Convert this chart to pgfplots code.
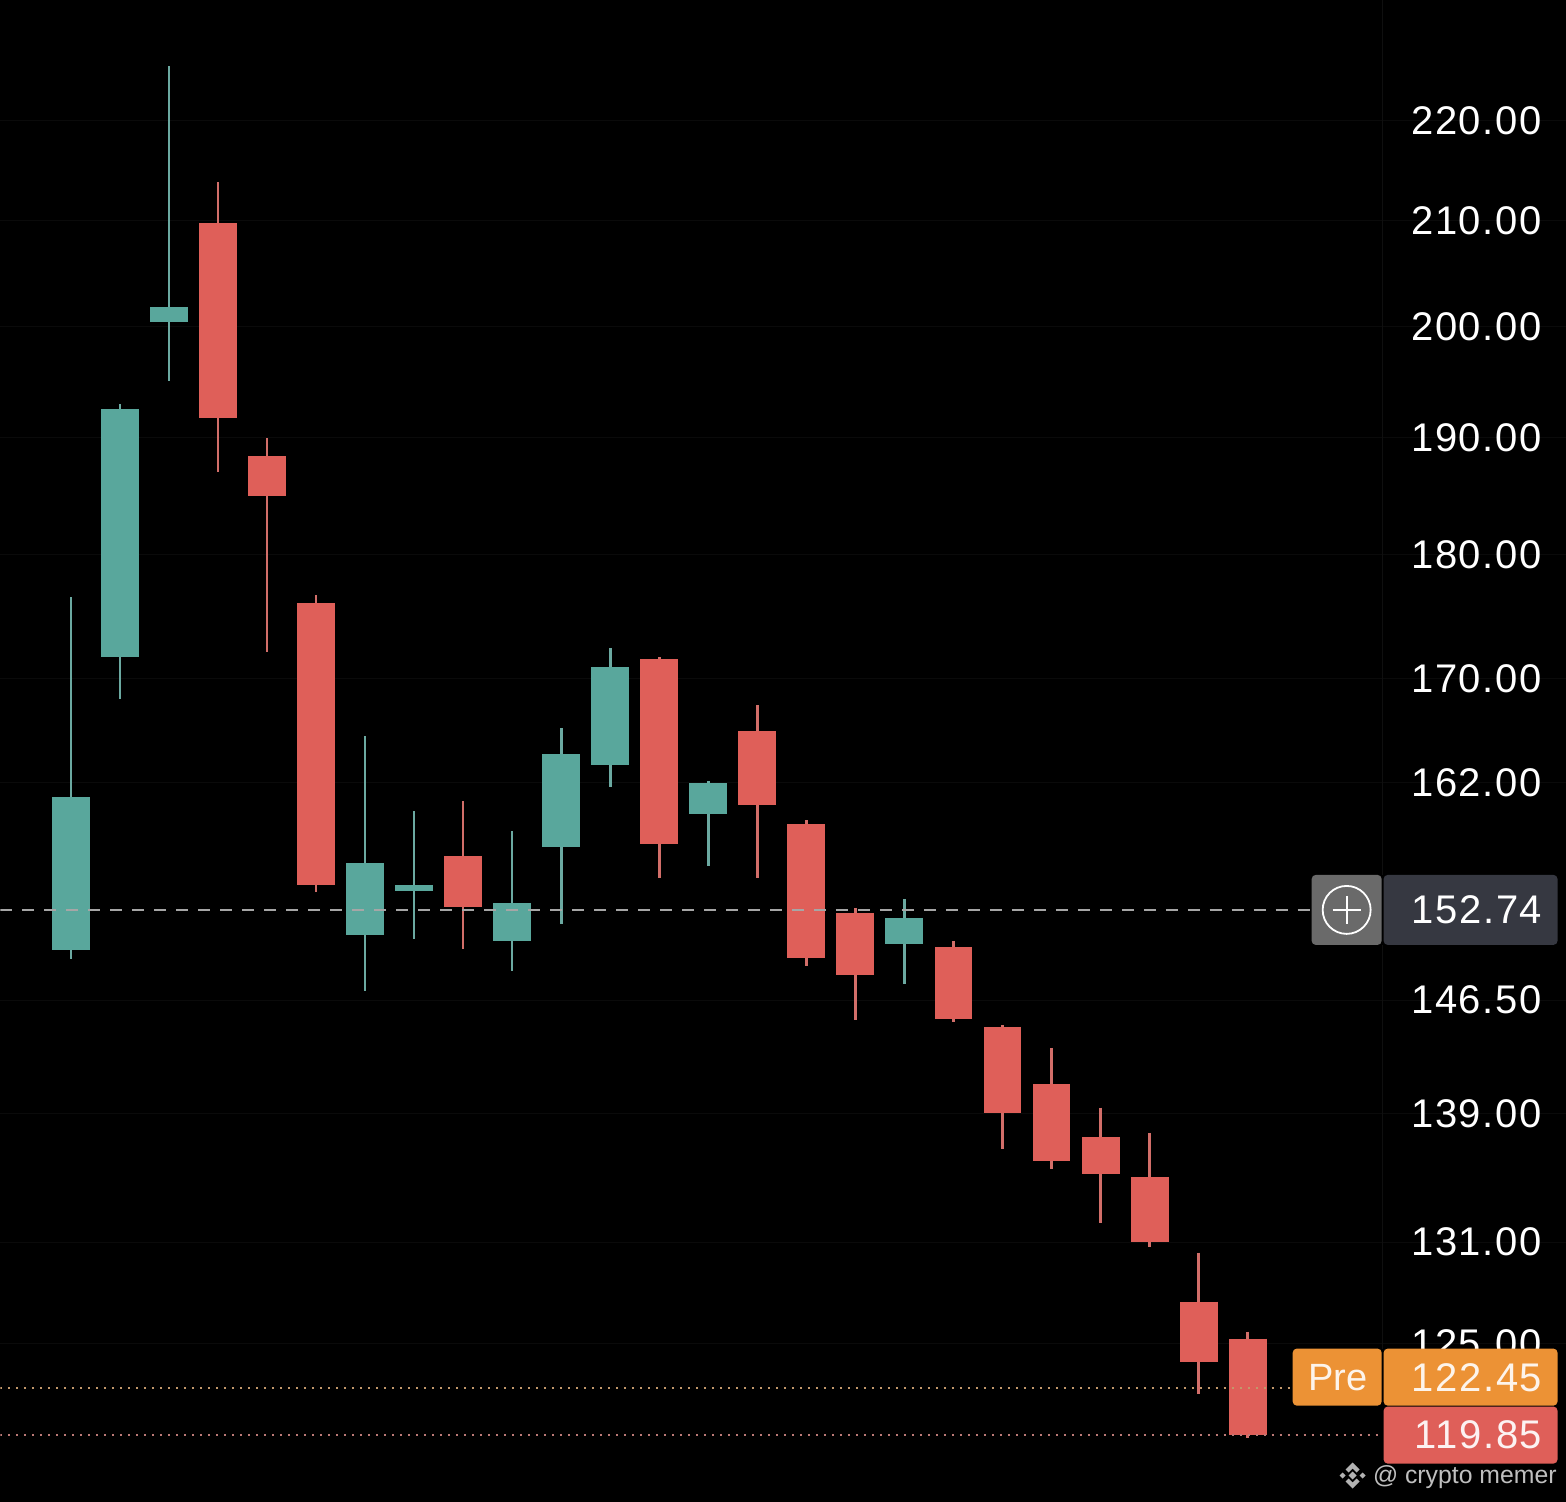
\documentclass[border=0pt]{standalone}
\usepackage{fontspec}
\usepackage{pgfplots}
\pgfplotsset{compat=1.18}
\setmainfont{Liberation Sans}
\newfontfamily\lab[LetterSpace=4]{Liberation Sans}
\newcommand{\labfont}{\lab\fontsize{20}{24}\selectfont}
\definecolor{upc}{HTML}{59A79C}
\definecolor{upw}{HTML}{6BA9A1}
\definecolor{dnc}{HTML}{DF5F59}
\definecolor{dnw}{HTML}{D26E69}
\definecolor{orng}{HTML}{EC9235}
\definecolor{btn}{HTML}{6A6A6A}
\definecolor{darkbox}{HTML}{363841}
\begin{document}
\begin{tikzpicture}
\fill[black] (0,0) rectangle (783pt,751pt);
\begin{axis}[
  at={(0,0)}, anchor=south west,
  scale only axis, width=783pt, height=751pt,
  xmin=-1.4448, xmax=30.488,
  ymode=log, ymin=116.20, ymax=232.54,
  xtick=\empty,
  ytick={125,131,139,146.5,162,170,180,190,200,210,220},
  yticklabels={125.00,131.00,139.00,146.50,162.00,170.00,180.00,190.00,200.00,210.00,220.00},
  yticklabel pos=right,
  yticklabel style={font=\labfont, anchor=east, xshift=-8.5pt, text=white},
  major tick length=0pt, minor tick num=0,
  ymajorgrids, grid style={color=black!96!white, line width=0.5pt},
  axis line style={draw=none},
  unbounded coords=jump,
  clip=true,
]
% up-candle wicks (high, low)
\addplot[upw, line width=1.1pt, line cap=butt, forget plot] coordinates {
 (0,176.49)(0,149.32)(0,nan)
 (1,192.95)(1,168.37)(1,nan)
 (2,225.56)(2,195.10)(2,nan)
 (6,165.52)(6,147.13)(6,nan)
 (7,159.88)(7,150.71)(7,nan)
 (9,158.41)(9,148.49)(9,nan)
 (10,166.13)(10,151.75)(10,nan)
 (11,172.39)(11,161.66)(11,nan)
 (13,162.11)(13,155.87)(13,nan)
 (17,153.52)(17,147.61)
};
% down-candle wicks (high, low)
\addplot[dnw, line width=1.1pt, line cap=butt, forget plot] coordinates {
 (3,213.79)(3,186.98)(3,nan)
 (4,189.94)(4,172.07)(4,nan)
 (5,176.66)(5,154.01)(5,nan)
 (8,160.62)(8,150.01)(8,nan)
 (12,171.67)(12,155.01)(12,nan)
 (14,167.90)(14,155.01)(14,nan)
 (15,159.22)(15,148.84)(15,nan)
 (16,152.88)(16,145.17)(16,nan)
 (18,150.57)(18,145.03)(18,nan)
 (19,144.83)(19,136.77)(19,nan)
 (20,143.30)(20,135.52)(20,nan)
 (21,139.39)(21,132.18)(21,nan)
 (22,137.79)(22,130.72)(22,nan)
 (23,130.36)(23,122.14)(23,nan)
 (24,125.69)(24,119.68)
};
% up-candle bodies (close, open)
\addplot[upc, line width=19pt, line cap=butt, forget plot] coordinates {
 (0,160.92)(0,149.94)(0,nan)
 (1,192.55)(1,171.67)(1,nan)
 (2,201.79)(2,200.40)(2,nan)
 (6,156.09)(6,150.99)(6,nan)
 (7,154.51)(7,154.08)(7,nan)
 (9,153.23)(9,150.57)(9,nan)
 (10,164.15)(10,157.24)(10,nan)
 (11,170.88)(11,163.32)(11,nan)
 (13,161.96)(13,159.66)(13,nan)
 (17,152.18)(17,150.36)
};
% down-candle bodies (open, close)
\addplot[dnc, line width=19pt, line cap=butt, forget plot] coordinates {
 (3,209.78)(3,191.71)(3,nan)
 (4,188.37)(4,184.92)(4,nan)
 (5,176.00)(5,154.51)(5,nan)
 (8,156.59)(8,152.95)(8,nan)
 (12,171.51)(12,157.46)(12,nan)
 (14,165.90)(14,160.33)(14,nan)
 (15,158.93)(15,149.39)(15,nan)
 (16,152.53)(16,148.22)(16,nan)
 (18,150.15)(18,145.24)(18,nan)
 (19,144.70)(19,139.06)(19,nan)
 (20,140.94)(20,136.02)(20,nan)
 (21,137.53)(21,135.20)(21,nan)
 (22,135.01)(22,131.02)(22,nan)
 (23,127.44)(23,123.96)(23,nan)
 (24,125.28)(24,119.82)
};
% price lines
\addplot[color=black!35!white, line width=1pt, dash pattern=on 6pt off 5pt, forget plot] coordinates {(-1.4448,152.74)(25.31,152.74)};
\addplot[color=orng!60!white!80!black, line width=1pt, dash pattern=on 1pt off 3pt, forget plot] coordinates {(-1.4448,122.45)(24.92,122.45)};
\addplot[color=dnc!65!white!80!black, line width=1pt, dash pattern=on 1pt off 3pt, forget plot] coordinates {(-1.4448,119.82)(26.77,119.82)};
\end{axis}
% overlay, in reference pixels
\begin{scope}[shift={(0,751pt)}, x=0.5pt, y=-0.5pt]
\draw[color=black!94!white, line width=0.5pt] (1383,0) -- (1383,875);
\draw[color=black!94!white, line width=0.5pt] (1383,945) -- (1383,1349);
% current price
\fill[btn, rounded corners=2pt] (1312,875) rectangle (1382,945);
\fill[darkbox, rounded corners=2pt] (1384,875) rectangle (1558,945);
\draw[white, line width=0.9pt] (1347,910) circle (24);
\draw[white, line width=0.9pt] (1333,910) -- (1361,910) (1347,896) -- (1347,924);
\node[anchor=east, inner sep=0pt, text=white, font=\labfont] at (1543,910) {152.74};
% pre-market
\fill[orng, rounded corners=2pt] (1293,1349) rectangle (1382,1406);
\fill[orng, rounded corners=2pt] (1384,1349) rectangle (1558,1406);
\node[inner sep=0pt, text=white!90!orng, font=\fontsize{19}{23}\selectfont] at (1338,1378) {Pre};
\node[anchor=east, inner sep=0pt, text=white!90!orng, font=\labfont] at (1543,1378) {122.45};
% last price
\fill[dnc, rounded corners=2pt] (1384,1407) rectangle (1558,1464);
\node[anchor=east, inner sep=0pt, text=white!92!dnc, font=\labfont] at (1543,1435) {119.85};
% watermark
\fill[black!30!white] (1353,1463) -- (1360,1470) -- (1357,1473) -- (1353,1469) -- (1349,1473) -- (1346,1470) -- cycle;
\fill[black!30!white] (1353,1489) -- (1360,1482) -- (1357,1479) -- (1353,1483) -- (1349,1479) -- (1346,1482) -- cycle;
\fill[black!30!white] (1353,1472) -- (1357,1476) -- (1353,1480) -- (1349,1476) -- cycle;
\fill[black!30!white] (1343,1473) -- (1346,1476) -- (1343,1479) -- (1340,1476) -- cycle;
\fill[black!30!white] (1363,1473) -- (1366,1476) -- (1363,1479) -- (1360,1476) -- cycle;
\node[anchor=west, inner sep=0pt, text=black!25!white, font=\fontsize{12.4}{15}\selectfont] at (1373,1478) {@ crypto memer};
\end{scope}
\end{tikzpicture}
\end{document}
